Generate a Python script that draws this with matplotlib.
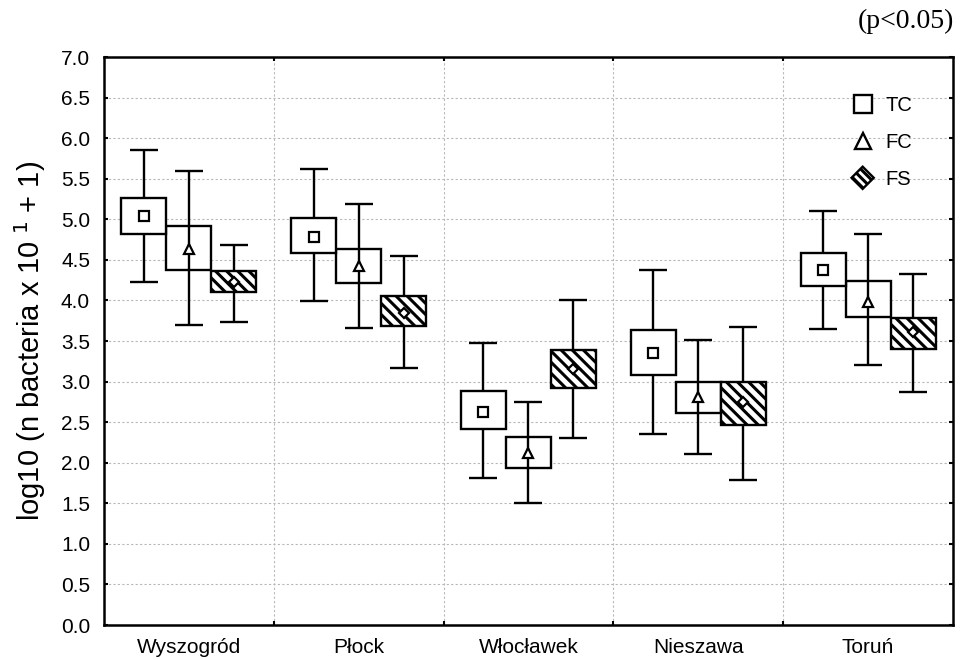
import matplotlib
matplotlib.use("Agg")
import matplotlib.pyplot as plt
import matplotlib.patches as mpatches
from matplotlib.lines import Line2D
from matplotlib.legend_handler import HandlerPatch
import numpy as np

plt.rcParams['font.family'] = ['Liberation Sans', 'DejaVu Sans']
plt.rcParams['hatch.linewidth'] = 2.2

categories = ["Wyszogród", "Płock", "Włocławek", "Nieszawa", "Toruń"]
series = ["TC", "FC", "FS"]

# mean values
tc_mean = [5.04, 4.78, 2.63, 3.35, 4.38]
fc_mean = [4.63, 4.42, 2.12, 2.81, 3.98]
fs_mean = [4.23, 3.85, 3.16, 2.75, 3.61]
# box (lower, upper)
tc_box_lo = [4.82, 4.59, 2.41, 3.08, 4.18]
tc_box_hi = [5.26, 5.01, 2.88, 3.63, 4.59]
fc_box_lo = [4.38, 4.22, 1.94, 2.61, 3.79]
fc_box_hi = [4.92, 4.63, 2.32, 2.99, 4.24]
fs_box_lo = [4.10, 3.69, 2.92, 2.46, 3.40]
fs_box_hi = [4.36, 4.05, 3.39, 3.00, 3.78]
# whiskers (lower, upper)
tc_wh_lo = [4.23, 3.99, 1.81, 2.35, 3.65]
tc_wh_hi = [5.86, 5.62, 3.48, 4.37, 5.10]
fc_wh_lo = [3.70, 3.66, 1.50, 2.11, 3.20]
fc_wh_hi = [5.60, 5.19, 2.75, 3.51, 4.82]
fs_wh_lo = [3.74, 3.17, 2.30, 1.79, 2.87]
fs_wh_hi = [4.68, 4.55, 4.00, 3.67, 4.33]

y_ticks = [0.0, 0.5, 1.0, 1.5, 2.0, 2.5, 3.0, 3.5, 4.0, 4.5, 5.0, 5.5, 6.0, 6.5, 7.0]

fig = plt.figure(figsize=(9.6, 6.6), dpi=100)
ax = fig.add_axes([0.1083, 0.053, 0.8844, 0.8606])

x = np.arange(len(categories))
off = 0.265
bw = 0.265
lw = 1.7
cap = 10

data = [
    (tc_mean, tc_box_lo, tc_box_hi, tc_wh_lo, tc_wh_hi, 's', None, -off),
    (fc_mean, fc_box_lo, fc_box_hi, fc_wh_lo, fc_wh_hi, '^', None, 0.0),
    (fs_mean, fs_box_lo, fs_box_hi, fs_wh_lo, fs_wh_hi, 'D', '\\\\\\', off),
]

for i, (m, blo, bhi, wlo, whi, mk, hatch, dx) in enumerate(data):
    xs = x + dx
    m = np.array(m); blo = np.array(blo); bhi = np.array(bhi)
    wlo = np.array(wlo); whi = np.array(whi)
    # whiskers
    ax.errorbar(xs, m, yerr=[m - wlo, whi - m], fmt='none', ecolor='black',
                elinewidth=lw, capsize=cap, capthick=lw, zorder=2)
    # boxes
    zb = 3 if i != 1 else 1.5
    ax.bar(xs, bhi - blo, bottom=blo, width=bw, facecolor='white',
           edgecolor='black', linewidth=lw, hatch=hatch, zorder=zb)
    ms = 6.5 if mk != 'D' else 5
    ax.plot(xs, m, linestyle='none', marker=mk, markersize=ms,
            markerfacecolor='white', markeredgecolor='black',
            markeredgewidth=1.6, zorder=4)

ax.set_xlim(-0.5, len(categories) - 0.5)
ax.set_ylim(0, 7)
ax.set_yticks(y_ticks)
ax.set_yticklabels([f"{v:.1f}" for v in y_ticks], fontsize=15)
ax.set_xticks(x)
ax.set_xticklabels(categories, fontsize=15)
ax.set_xticks(np.arange(len(categories) - 1) + 0.5, minor=True)
ax.tick_params(axis='x', which='major', length=0, pad=9)
ax.tick_params(axis='x', which='minor', length=3, width=1.5, direction='in', top=True)
ax.tick_params(axis='y', which='major', length=3, width=1.5, direction='in', right=True, pad=10)

ax.grid(True, axis='y', which='major', linestyle=(0, (2, 2)), color='#b8b8b8', linewidth=0.8, zorder=0)
ax.grid(True, axis='x', which='minor', linestyle=(0, (2, 2)), color='#b8b8b8', linewidth=0.8, zorder=0)
ax.set_axisbelow(True)
for s in ax.spines.values():
    s.set_linewidth(1.8)

ax.set_ylabel("log10 (n bacteria x 10$^{\\ 1}$ + 1)", fontsize=21, labelpad=9)


def make_diamond(legend, orig_handle, xdescent, ydescent, width, height, fontsize):
    cx = width / 2 - xdescent
    cy = height / 2 - ydescent
    r = 8
    return mpatches.Polygon([[cx - r, cy], [cx, cy + r], [cx + r, cy], [cx, cy - r]], closed=True)


h_tc = Line2D([], [], linestyle='none', marker='s', markersize=13,
              markerfacecolor='white', markeredgecolor='black', markeredgewidth=1.7)
h_fc = Line2D([], [], linestyle='none', marker='^', markersize=12,
              markerfacecolor='white', markeredgecolor='black', markeredgewidth=1.7)
h_fs = mpatches.Patch(facecolor='white', edgecolor='black', hatch='\\\\\\\\', linewidth=1.7)

leg = ax.legend([h_tc, h_fc, h_fs], series, loc='upper left',
                bbox_to_anchor=(0.858, 0.964), frameon=False, fontsize=14.5,
                handlelength=1.2, handletextpad=0.55, labelspacing=0.9,
                handler_map={mpatches.Patch: HandlerPatch(patch_func=make_diamond)})

fig.text(0.994, 0.967, "(p<0.05)", ha='right', va='center', fontsize=20,
         family=['Liberation Serif', 'DejaVu Serif'])

fig.savefig("out.png", dpi=100)
